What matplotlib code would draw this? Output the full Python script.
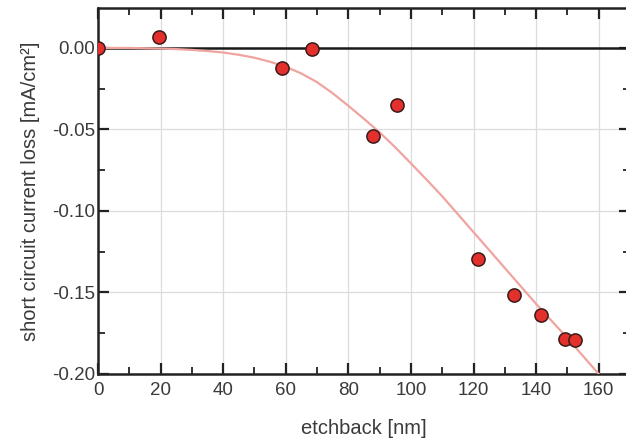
import matplotlib
matplotlib.use("Agg")
import matplotlib.pyplot as plt
from matplotlib.ticker import MultipleLocator

plt.rcParams['font.family'] = ['Liberation Sans', 'DejaVu Sans']

# measured points
etch = [0, 19.6, 58.9, 68.4, 87.8, 95.5, 121.3, 133.0, 141.6, 149.2, 152.5]
loss = [0.0, 0.0069, -0.0125, -0.0008, -0.054, -0.035, -0.1294, -0.1513, -0.164, -0.1783, -0.1791]

# fit curve
fit_x = [0, 5, 10, 15, 20, 25, 30, 35, 40, 45, 50, 55, 60, 65, 70, 75, 80,
         85, 90, 95, 100, 105, 110, 115, 120, 125, 130, 135, 140, 145, 150, 155, 160]
fit_y = [0.0, 0.0, 0.0, -0.0002, -0.0004, -0.0007, -0.0012, -0.0019, -0.0028,
         -0.0042, -0.006, -0.0085, -0.0115, -0.0157, -0.021, -0.0278, -0.0355,
         -0.0435, -0.0518, -0.061, -0.0708, -0.0808, -0.091, -0.102, -0.113,
         -0.124, -0.135, -0.146, -0.157, -0.1675, -0.178, -0.189, -0.200]

txt = '#3a3a3a'

fig = plt.figure(figsize=(6.26, 4.41), dpi=100)
ax = fig.add_axes([98 / 626, 1 - 374 / 441, 532 / 626, 366 / 441])

ax.grid(True, which='major', color='#dcdcdc', lw=0.9)
ax.set_axisbelow(True)
ax.axhline(0, color='#1a1a1a', lw=1.8, zorder=2)
ax.plot(fit_x, fit_y, color='#f0a4a0', lw=1.6, zorder=3)
ax.plot(etch, loss, 'o', ms=9.5, mfc='#e3302c', mec='#3a1a1a', mew=1.1, zorder=4)

ax.set_xlim(0, 170)
ax.set_ylim(-0.2, 0.0245)
ax.xaxis.set_minor_locator(MultipleLocator(10))
ax.yaxis.set_minor_locator(MultipleLocator(0.025))
ax.set_xticks([0, 20, 40, 60, 80, 100, 120, 140, 160])
ax.set_xticklabels(['0', '20', '40', '60', '80', '100', '120', '140', '160'])
ax.set_yticks([0.0, -0.05, -0.10, -0.15, -0.20])
ax.set_yticklabels(['0.00', '-0.05', '-0.10', '-0.15', '-0.20'])

ax.tick_params(which='both', direction='in', top=True, right=True,
               colors='#222222', labelcolor=txt, labelsize=13.5)
ax.tick_params(which='major', length=8, width=1.6)
ax.tick_params(axis='x', which='major', pad=6)
ax.tick_params(axis='y', which='major', pad=2)
ax.tick_params(which='minor', length=5, width=1.3)
for s in ax.spines.values():
    s.set_linewidth(1.8)
    s.set_color('#222222')
# right border falls just outside the picture, only its ticks show
ax.spines['right'].set_visible(False)

ax.set_xlabel('etchback [nm]', fontsize=14.5, color=txt, labelpad=14)
ax.set_ylabel('short circuit current loss [mA/cm²]', fontsize=14.5, color=txt, labelpad=9)

fig.savefig('out.png', dpi=100)
